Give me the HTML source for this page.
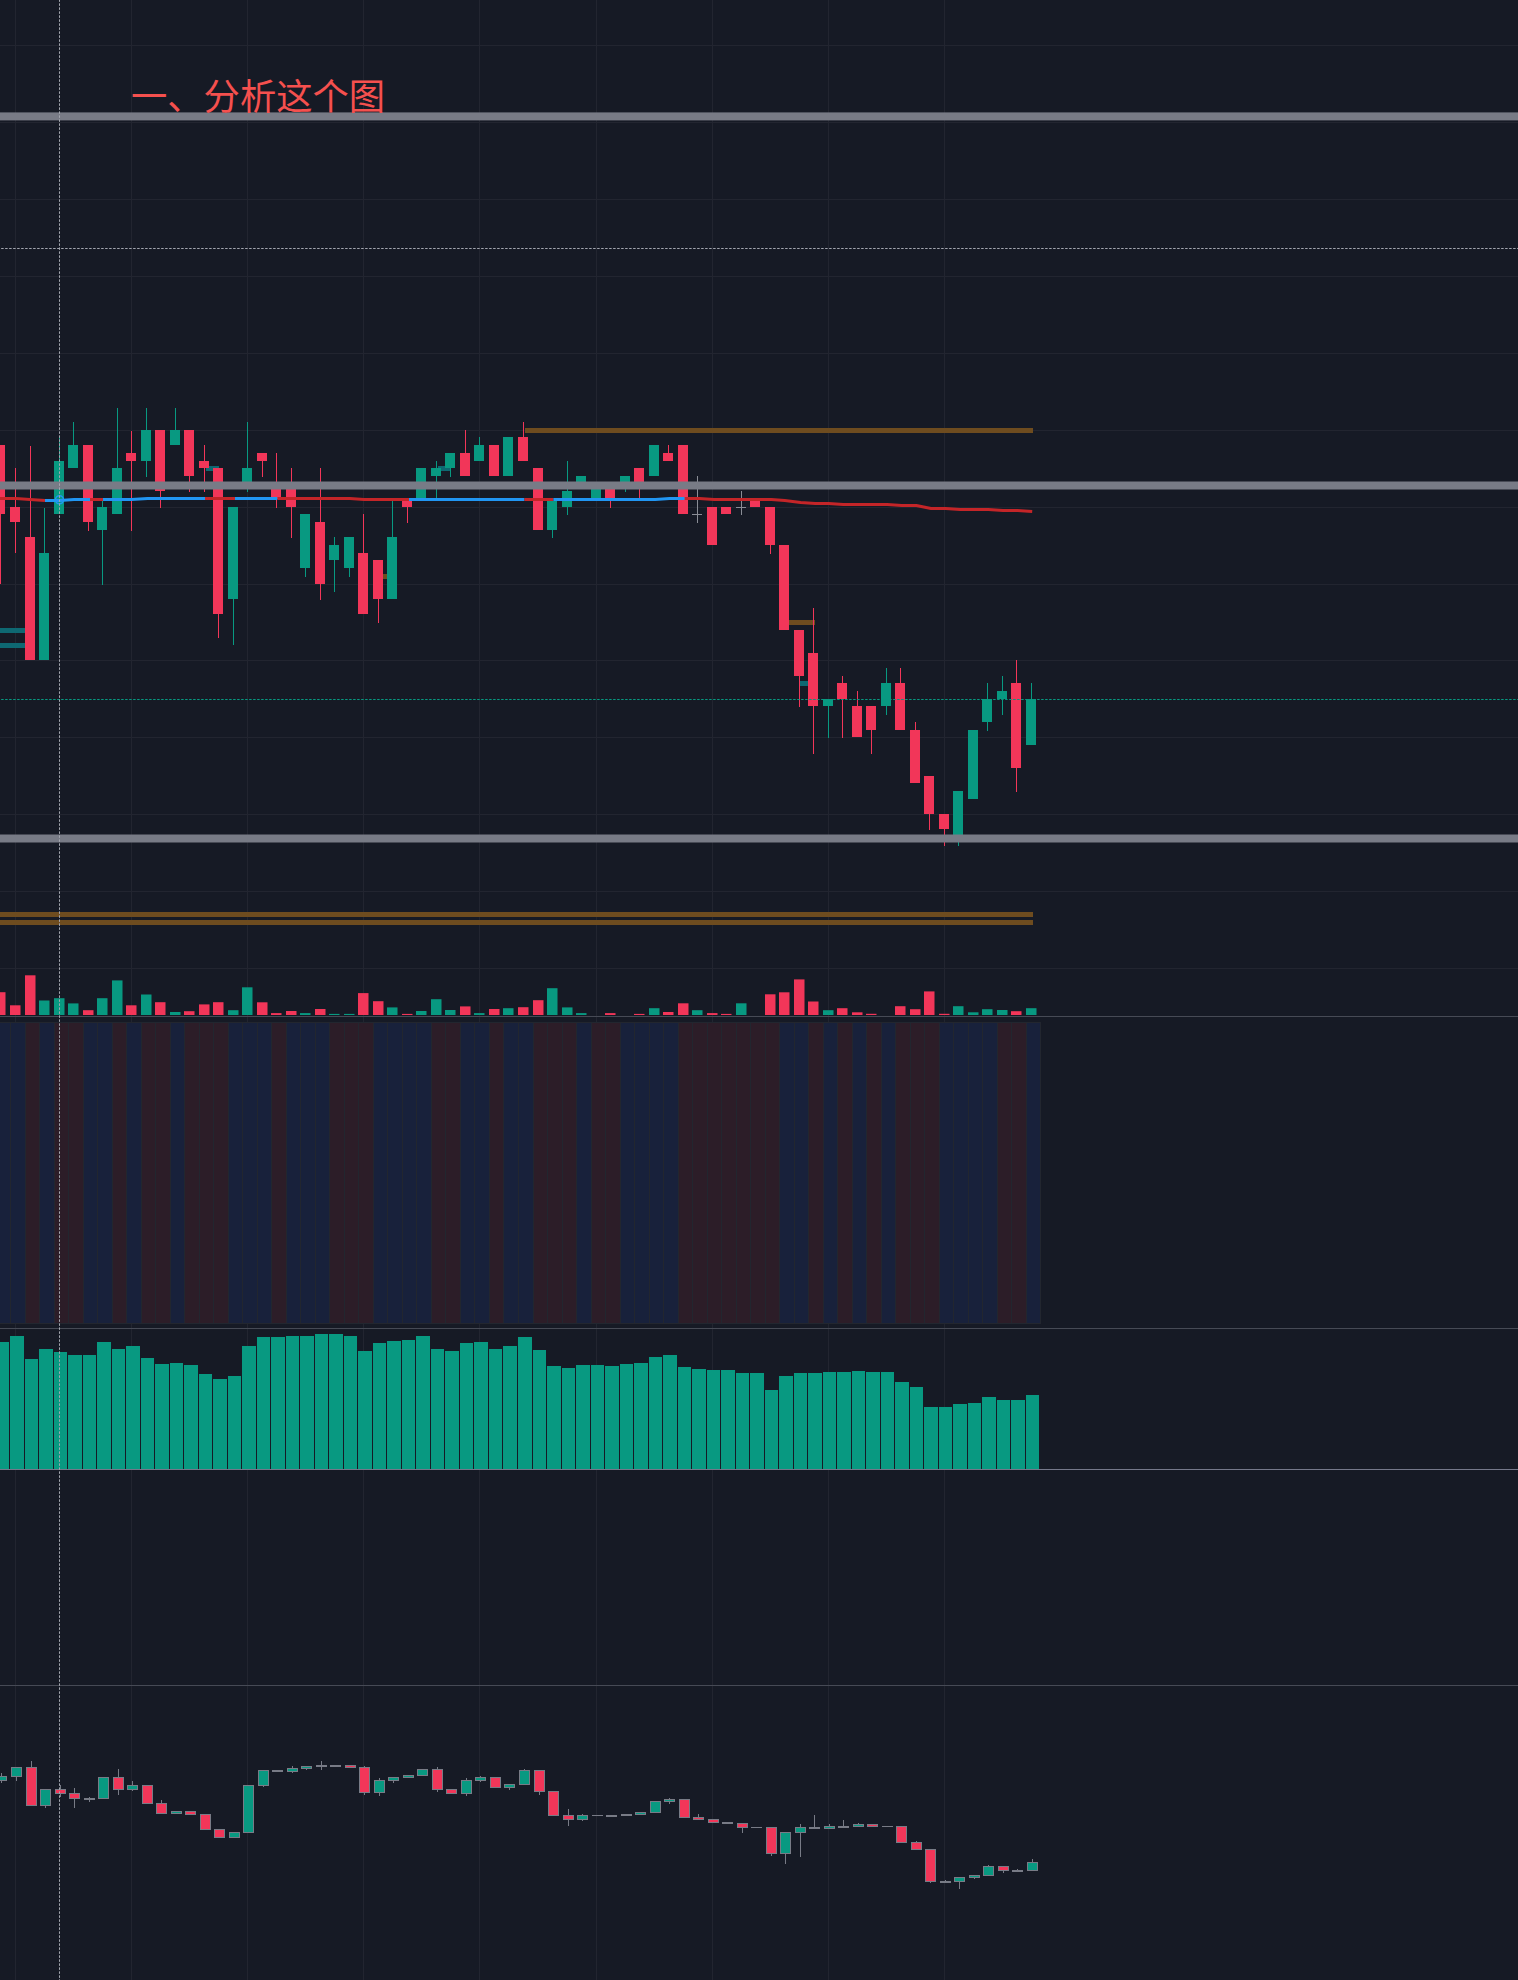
<!DOCTYPE html>
<html lang="zh-CN"><head><meta charset="utf-8"><title>一、分析这个图</title>
<style>html,body{margin:0;padding:0;background:#161A25;}body{width:1518px;height:1980px;overflow:hidden;}svg{display:block;}rect{shape-rendering:crispEdges;}</style>
</head><body>
<svg width="1518" height="1980" viewBox="0 0 1518 1980" ><rect x="0" y="0" width="1518" height="1980" fill="#161A25"/>
<path d="M15.5 0V1980 M131.5 0V1980 M247.5 0V1980 M363.5 0V1980 M479.5 0V1980 M596.5 0V1980 M712.5 0V1980 M828.5 0V1980 M944.5 0V1980 M0 45.5H1518 M0 122.5H1518 M0 199.5H1518 M0 276.5H1518 M0 353.5H1518 M0 430.5H1518 M0 507.5H1518 M0 584.5H1518 M0 660.5H1518 M0 737.5H1518 M0 814.5H1518 M0 891.5H1518 M0 968.5H1518" stroke="#222530" stroke-width="1" fill="none"/>
<g fill="#6E4C1F"><rect x="524.7" y="428" width="507.9" height="5"/><rect x="0" y="912" width="1032.6" height="5"/><rect x="0" y="920" width="1032.6" height="5"/><rect x="383" y="574" width="4.5" height="4.6"/><rect x="789" y="620" width="25.5" height="5"/></g>
<g fill="#0E6872"><rect x="0" y="628" width="25" height="5"/><rect x="0" y="643" width="25" height="5"/><rect x="206" y="466" width="13" height="4.5"/><rect x="438" y="466" width="12" height="4.5"/><rect x="800" y="681" width="8" height="4.6"/></g>
<g fill="#F23659"><rect x="0" y="514" width="1" height="70"/><rect x="-5" y="445" width="10" height="69"/></g>
<g fill="#F23659"><rect x="15" y="468" width="1" height="39"/><rect x="15" y="522" width="1" height="31"/><rect x="10" y="507" width="10" height="15"/></g>
<g fill="#F23659"><rect x="30" y="446" width="1" height="91"/><rect x="25" y="537" width="10" height="123"/></g>
<g fill="#089981"><rect x="44" y="508" width="1" height="45"/><rect x="39" y="553" width="10" height="107"/></g>
<g fill="#089981"><rect x="59" y="437" width="1" height="24"/><rect x="54" y="461" width="10" height="53"/></g>
<g fill="#089981"><rect x="73" y="422" width="1" height="23"/><rect x="68" y="445" width="10" height="23"/></g>
<g fill="#F23659"><rect x="88" y="522" width="1" height="9"/><rect x="83" y="445" width="10" height="77"/></g>
<g fill="#089981"><rect x="102" y="501" width="1" height="6"/><rect x="102" y="530" width="1" height="55"/><rect x="97" y="507" width="10" height="23"/></g>
<g fill="#089981"><rect x="117" y="407.5" width="1" height="60.5"/><rect x="112" y="468" width="10" height="46"/></g>
<g fill="#F23659"><rect x="131" y="431" width="1" height="22"/><rect x="131" y="461" width="1" height="70"/><rect x="126" y="453" width="10" height="8"/></g>
<g fill="#089981"><rect x="146" y="407.5" width="1" height="22.5"/><rect x="146" y="461" width="1" height="16"/><rect x="141" y="430" width="10" height="31"/></g>
<g fill="#F23659"><rect x="160" y="491" width="1" height="17"/><rect x="155" y="430" width="10" height="61"/></g>
<g fill="#089981"><rect x="175" y="407.5" width="1" height="22.5"/><rect x="170" y="430" width="10" height="15"/></g>
<g fill="#F23659"><rect x="189" y="476" width="1" height="16"/><rect x="184" y="430" width="10" height="46"/></g>
<g fill="#F23659"><rect x="204" y="445" width="1" height="16"/><rect x="204" y="468" width="1" height="24"/><rect x="199" y="461" width="10" height="7"/></g>
<g fill="#F23659"><rect x="218" y="614" width="1" height="23.5"/><rect x="213" y="468" width="10" height="146"/></g>
<g fill="#089981"><rect x="233" y="599" width="1" height="46"/><rect x="228" y="507" width="10" height="92"/></g>
<g fill="#089981"><rect x="247" y="422" width="1" height="46"/><rect x="247" y="484" width="1" height="8"/><rect x="242" y="468" width="10" height="16"/></g>
<g fill="#F23659"><rect x="262" y="461" width="1" height="16"/><rect x="257" y="453" width="10" height="8"/></g>
<g fill="#F23659"><rect x="276" y="453" width="1" height="31"/><rect x="276" y="499" width="1" height="9"/><rect x="271" y="484" width="10" height="15"/></g>
<g fill="#F23659"><rect x="291" y="468" width="1" height="16"/><rect x="291" y="507" width="1" height="31"/><rect x="286" y="484" width="10" height="23"/></g>
<g fill="#089981"><rect x="305" y="568" width="1" height="9"/><rect x="300" y="514" width="10" height="54"/></g>
<g fill="#F23659"><rect x="320" y="468" width="1" height="54"/><rect x="320" y="584" width="1" height="16"/><rect x="315" y="522" width="10" height="62"/></g>
<g fill="#089981"><rect x="334" y="537" width="1" height="8"/><rect x="334" y="560" width="1" height="32"/><rect x="329" y="545" width="10" height="15"/></g>
<g fill="#089981"><rect x="349" y="568" width="1" height="9"/><rect x="344" y="537" width="10" height="31"/></g>
<g fill="#F23659"><rect x="363" y="514" width="1" height="39"/><rect x="358" y="553" width="10" height="61"/></g>
<g fill="#F23659"><rect x="378" y="599" width="1" height="24"/><rect x="373" y="560" width="10" height="39"/></g>
<g fill="#089981"><rect x="392" y="501" width="1" height="36"/><rect x="387" y="537" width="10" height="62"/></g>
<g fill="#F23659"><rect x="407" y="507" width="1" height="16"/><rect x="402" y="499" width="10" height="8"/></g>
<g fill="#089981"><rect x="416" y="468" width="10" height="31"/></g>
<g fill="#089981"><rect x="436" y="461" width="1" height="7"/><rect x="436" y="476" width="1" height="22"/><rect x="431" y="468" width="10" height="8"/></g>
<g fill="#089981"><rect x="450" y="468" width="1" height="9"/><rect x="445" y="453" width="10" height="15"/></g>
<g fill="#F23659"><rect x="465" y="430" width="1" height="23"/><rect x="460" y="453" width="10" height="23"/></g>
<g fill="#089981"><rect x="479" y="437" width="1" height="8"/><rect x="474" y="445" width="10" height="16"/></g>
<g fill="#F23659"><rect x="489" y="445" width="10" height="31"/></g>
<g fill="#089981"><rect x="503" y="437" width="10" height="39"/></g>
<g fill="#F23659"><rect x="523" y="422" width="1" height="15"/><rect x="518" y="437" width="10" height="24"/></g>
<g fill="#F23659"><rect x="533" y="468" width="10" height="62"/></g>
<g fill="#089981"><rect x="552" y="530" width="1" height="8"/><rect x="547" y="501" width="10" height="29"/></g>
<g fill="#089981"><rect x="567" y="461" width="1" height="30"/><rect x="567" y="507" width="1" height="7.5"/><rect x="562" y="491" width="10" height="16"/></g>
<g fill="#089981"><rect x="576" y="476" width="10" height="8"/></g>
<g fill="#089981"><rect x="591" y="484" width="10" height="15"/></g>
<g fill="#F23659"><rect x="610" y="499" width="1" height="9"/><rect x="605" y="484" width="10" height="15"/></g>
<g fill="#089981"><rect x="625" y="484" width="1" height="8"/><rect x="620" y="476" width="10" height="8"/></g>
<g fill="#F23659"><rect x="639" y="484" width="1" height="14"/><rect x="634" y="468" width="10" height="16"/></g>
<g fill="#089981"><rect x="649" y="445" width="10" height="31"/></g>
<g fill="#F23659"><rect x="668" y="445" width="1" height="8"/><rect x="663" y="453" width="10" height="8"/></g>
<g fill="#F23659"><rect x="678" y="445" width="10" height="69"/></g>
<g fill="#8A8D96"><rect x="697" y="476" width="1" height="47"/><rect x="692" y="513.5" width="10" height="1"/></g>
<g fill="#F23659"><rect x="707" y="507" width="10" height="38"/></g>
<g fill="#F23659"><rect x="721" y="507" width="10" height="7"/></g>
<g fill="#8A8D96"><rect x="741" y="491" width="1" height="23.5"/><rect x="736" y="506.5" width="10" height="1"/></g>
<g fill="#F23659"><rect x="750" y="499" width="10" height="8"/></g>
<g fill="#F23659"><rect x="770" y="545" width="1" height="9"/><rect x="765" y="507" width="10" height="38"/></g>
<g fill="#F23659"><rect x="779" y="545" width="10" height="85"/></g>
<g fill="#F23659"><rect x="799" y="676" width="1" height="30.5"/><rect x="794" y="630" width="10" height="46"/></g>
<g fill="#F23659"><rect x="813" y="608" width="1" height="45"/><rect x="813" y="706" width="1" height="48"/><rect x="808" y="653" width="10" height="53"/></g>
<g fill="#089981"><rect x="828" y="706" width="1" height="32"/><rect x="823" y="699" width="10" height="7"/></g>
<g fill="#F23659"><rect x="842" y="676" width="1" height="7"/><rect x="842" y="699" width="1" height="39"/><rect x="837" y="683" width="10" height="16"/></g>
<g fill="#F23659"><rect x="857" y="691" width="1" height="15"/><rect x="852" y="706" width="10" height="31"/></g>
<g fill="#F23659"><rect x="871" y="730" width="1" height="24"/><rect x="866" y="706" width="10" height="24"/></g>
<g fill="#089981"><rect x="886" y="668" width="1" height="15"/><rect x="886" y="706" width="1" height="9"/><rect x="881" y="683" width="10" height="23"/></g>
<g fill="#F23659"><rect x="900" y="668" width="1" height="15"/><rect x="895" y="683" width="10" height="47"/></g>
<g fill="#F23659"><rect x="915" y="722" width="1" height="8"/><rect x="910" y="730" width="10" height="53"/></g>
<g fill="#F23659"><rect x="929" y="814" width="1" height="16"/><rect x="924" y="776" width="10" height="38"/></g>
<g fill="#F23659"><rect x="944" y="829" width="1" height="16.5"/><rect x="939" y="814" width="10" height="15"/></g>
<g fill="#089981"><rect x="958" y="837" width="1" height="8.5"/><rect x="953" y="791" width="10" height="46"/></g>
<g fill="#089981"><rect x="968" y="730" width="10" height="69"/></g>
<g fill="#089981"><rect x="987" y="683" width="1" height="16"/><rect x="987" y="722" width="1" height="9"/><rect x="982" y="699" width="10" height="23"/></g>
<g fill="#089981"><rect x="1002" y="676" width="1" height="15"/><rect x="1002" y="699" width="1" height="16"/><rect x="997" y="691" width="10" height="8"/></g>
<g fill="#F23659"><rect x="1016" y="660" width="1" height="23"/><rect x="1016" y="768" width="1" height="24"/><rect x="1011" y="683" width="10" height="85"/></g>
<g fill="#089981"><rect x="1031" y="683" width="1" height="16"/><rect x="1026" y="699" width="10" height="46"/></g>
<path d="M0 498.5 L16 498.5 L30 499.5 L45 500.5" stroke="#C42528" stroke-width="3" fill="none" stroke-linejoin="round"/>
<path d="M45 500.5 L60 500.5 L74 499.5 L90 499.5" stroke="#2196F3" stroke-width="3" fill="none" stroke-linejoin="round"/>
<path d="M90 499.5 L103 499.5" stroke="#C42528" stroke-width="3" fill="none" stroke-linejoin="round"/>
<path d="M103 499.5 L131.4 499.5 L147.6 498.5 L205 498.5" stroke="#2196F3" stroke-width="3" fill="none" stroke-linejoin="round"/>
<path d="M205 498.5 L235 498.5" stroke="#C42528" stroke-width="3" fill="none" stroke-linejoin="round"/>
<path d="M235 498.5 L277.5 498.5" stroke="#2196F3" stroke-width="3" fill="none" stroke-linejoin="round"/>
<path d="M277.5 498.5 L350 498.5 L364 499.5 L409 499.5" stroke="#C42528" stroke-width="3" fill="none" stroke-linejoin="round"/>
<path d="M409 499.5 L524.5 499.5" stroke="#2196F3" stroke-width="3" fill="none" stroke-linejoin="round"/>
<path d="M524.5 499.5 L553.4 499.5" stroke="#C42528" stroke-width="3" fill="none" stroke-linejoin="round"/>
<path d="M553.4 499.5 L655.4 499.5 L669.6 498.5 L684.7 498.5" stroke="#2196F3" stroke-width="3" fill="none" stroke-linejoin="round"/>
<path d="M684.7 498.5 L699.5 498.5 L714 499.5 L771.4 499.5 L784.8 500.5 L800.6 502.5 L815.3 503.5 L828.7 503.5 L843.3 504.5 L887.2 504.5 L901.8 505.5 L916.4 505.5 L931 508.5 L945.7 508.5 L960.3 509.5 L988.3 509.5 L1003 510.5 L1017.6 510.5 L1032.2 511.5" stroke="#C42528" stroke-width="3" fill="none" stroke-linejoin="round"/>
<circle cx="59.5" cy="499.8" r="4" fill="none" stroke="#2196F3" stroke-width="1.6"/>
<g fill="#787B86" style="shape-rendering:auto"><rect x="0" y="112.4" width="1518" height="8" style="shape-rendering:auto"/><rect x="0" y="481.5" width="1518" height="8" style="shape-rendering:auto"/><rect x="0" y="834.5" width="1518" height="8" style="shape-rendering:auto"/></g>
<rect x="-5" y="992.2" width="10.5" height="22.8" fill="#F23659" style="shape-rendering:auto"/>
<rect x="10" y="1005.3" width="10.5" height="9.7" fill="#F23659" style="shape-rendering:auto"/>
<rect x="25" y="975.3" width="10.5" height="39.7" fill="#F23659" style="shape-rendering:auto"/>
<rect x="39" y="1000.5" width="10.5" height="14.5" fill="#089981" style="shape-rendering:auto"/>
<rect x="54" y="998.2" width="10.5" height="16.8" fill="#089981" style="shape-rendering:auto"/>
<rect x="68" y="1003.4" width="10.5" height="11.6" fill="#089981" style="shape-rendering:auto"/>
<rect x="83" y="1010.2" width="10.5" height="4.8" fill="#F23659" style="shape-rendering:auto"/>
<rect x="97" y="998.2" width="10.5" height="16.8" fill="#089981" style="shape-rendering:auto"/>
<rect x="112" y="980.4" width="10.5" height="34.6" fill="#089981" style="shape-rendering:auto"/>
<rect x="126" y="1005.3" width="10.5" height="9.7" fill="#F23659" style="shape-rendering:auto"/>
<rect x="141" y="994.5" width="10.5" height="20.5" fill="#089981" style="shape-rendering:auto"/>
<rect x="155" y="1002.2" width="10.5" height="12.8" fill="#F23659" style="shape-rendering:auto"/>
<rect x="170" y="1012" width="10.5" height="3" fill="#089981" style="shape-rendering:auto"/>
<rect x="184" y="1011.2" width="10.5" height="3.8" fill="#F23659" style="shape-rendering:auto"/>
<rect x="199" y="1004.4" width="10.5" height="10.6" fill="#F23659" style="shape-rendering:auto"/>
<rect x="213" y="1002.2" width="10.5" height="12.8" fill="#F23659" style="shape-rendering:auto"/>
<rect x="228" y="1010.2" width="10.5" height="4.8" fill="#089981" style="shape-rendering:auto"/>
<rect x="242" y="987.3" width="10.5" height="27.7" fill="#089981" style="shape-rendering:auto"/>
<rect x="257" y="1002.3" width="10.5" height="12.7" fill="#F23659" style="shape-rendering:auto"/>
<rect x="271" y="1013.1" width="10.5" height="1.9" fill="#F23659" style="shape-rendering:auto"/>
<rect x="286" y="1011" width="10.5" height="4" fill="#F23659" style="shape-rendering:auto"/>
<rect x="300" y="1013.1" width="10.5" height="1.9" fill="#089981" style="shape-rendering:auto"/>
<rect x="315" y="1009" width="10.5" height="6" fill="#F23659" style="shape-rendering:auto"/>
<rect x="329" y="1013.9" width="10.5" height="1.1" fill="#089981" style="shape-rendering:auto"/>
<rect x="344" y="1013.9" width="10.5" height="1.1" fill="#089981" style="shape-rendering:auto"/>
<rect x="358" y="993.1" width="10.5" height="21.9" fill="#F23659" style="shape-rendering:auto"/>
<rect x="373" y="1001.2" width="10.5" height="13.8" fill="#F23659" style="shape-rendering:auto"/>
<rect x="387" y="1007.4" width="10.5" height="7.6" fill="#089981" style="shape-rendering:auto"/>
<rect x="402" y="1013.9" width="10.5" height="1.1" fill="#F23659" style="shape-rendering:auto"/>
<rect x="416" y="1011" width="10.5" height="4" fill="#089981" style="shape-rendering:auto"/>
<rect x="431" y="999.2" width="10.5" height="15.8" fill="#089981" style="shape-rendering:auto"/>
<rect x="445" y="1010" width="10.5" height="5" fill="#089981" style="shape-rendering:auto"/>
<rect x="460" y="1006.4" width="10.5" height="8.6" fill="#F23659" style="shape-rendering:auto"/>
<rect x="474" y="1013.1" width="10.5" height="1.9" fill="#089981" style="shape-rendering:auto"/>
<rect x="489" y="1009" width="10.5" height="6" fill="#F23659" style="shape-rendering:auto"/>
<rect x="503" y="1008.2" width="10.5" height="6.8" fill="#089981" style="shape-rendering:auto"/>
<rect x="518" y="1007.2" width="10.5" height="7.8" fill="#F23659" style="shape-rendering:auto"/>
<rect x="533" y="1000.2" width="10.5" height="14.8" fill="#F23659" style="shape-rendering:auto"/>
<rect x="547" y="988.2" width="10.5" height="26.8" fill="#089981" style="shape-rendering:auto"/>
<rect x="562" y="1007.4" width="10.5" height="7.6" fill="#089981" style="shape-rendering:auto"/>
<rect x="576" y="1013.1" width="10.5" height="1.9" fill="#089981" style="shape-rendering:auto"/>
<rect x="605" y="1013.1" width="10.5" height="1.9" fill="#F23659" style="shape-rendering:auto"/>
<rect x="634" y="1013.9" width="10.5" height="1.1" fill="#F23659" style="shape-rendering:auto"/>
<rect x="649" y="1008.2" width="10.5" height="6.8" fill="#089981" style="shape-rendering:auto"/>
<rect x="663" y="1012" width="10.5" height="3" fill="#F23659" style="shape-rendering:auto"/>
<rect x="678" y="1003.3" width="10.5" height="11.7" fill="#F23659" style="shape-rendering:auto"/>
<rect x="692" y="1010.2" width="10.5" height="4.8" fill="#089981" style="shape-rendering:auto"/>
<rect x="707" y="1013.1" width="10.5" height="1.9" fill="#F23659" style="shape-rendering:auto"/>
<rect x="721" y="1013.9" width="10.5" height="1.1" fill="#F23659" style="shape-rendering:auto"/>
<rect x="736" y="1003.3" width="10.5" height="11.7" fill="#089981" style="shape-rendering:auto"/>
<rect x="765" y="994.3" width="10.5" height="20.7" fill="#F23659" style="shape-rendering:auto"/>
<rect x="779" y="992.3" width="10.5" height="22.7" fill="#F23659" style="shape-rendering:auto"/>
<rect x="794" y="979.4" width="10.5" height="35.6" fill="#F23659" style="shape-rendering:auto"/>
<rect x="808" y="1001.5" width="10.5" height="13.5" fill="#F23659" style="shape-rendering:auto"/>
<rect x="823" y="1010.2" width="10.5" height="4.8" fill="#089981" style="shape-rendering:auto"/>
<rect x="837" y="1008.2" width="10.5" height="6.8" fill="#F23659" style="shape-rendering:auto"/>
<rect x="852" y="1012.3" width="10.5" height="2.7" fill="#F23659" style="shape-rendering:auto"/>
<rect x="866" y="1013.8" width="10.5" height="1.2" fill="#F23659" style="shape-rendering:auto"/>
<rect x="895" y="1006.2" width="10.5" height="8.8" fill="#F23659" style="shape-rendering:auto"/>
<rect x="910" y="1009.2" width="10.5" height="5.8" fill="#F23659" style="shape-rendering:auto"/>
<rect x="924" y="991.4" width="10.5" height="23.6" fill="#F23659" style="shape-rendering:auto"/>
<rect x="939" y="1013.8" width="10.5" height="1.2" fill="#F23659" style="shape-rendering:auto"/>
<rect x="953" y="1006.2" width="10.5" height="8.8" fill="#089981" style="shape-rendering:auto"/>
<rect x="968" y="1012.3" width="10.5" height="2.7" fill="#089981" style="shape-rendering:auto"/>
<rect x="982" y="1009.2" width="10.5" height="5.8" fill="#089981" style="shape-rendering:auto"/>
<rect x="997" y="1010" width="10.5" height="5" fill="#089981" style="shape-rendering:auto"/>
<rect x="1011" y="1011.2" width="10.5" height="3.8" fill="#F23659" style="shape-rendering:auto"/>
<rect x="1026" y="1008.2" width="10.5" height="6.8" fill="#089981" style="shape-rendering:auto"/>
<rect x="0" y="1022" width="1041" height="302" fill="#22262F"/>
<rect x="-4" y="1023" width="14" height="300" fill="#18213B"/>
<rect x="11" y="1023" width="14" height="300" fill="#18213B"/>
<rect x="26" y="1023" width="13" height="300" fill="#2C1D28"/>
<rect x="40" y="1023" width="14" height="300" fill="#18213B"/>
<rect x="55" y="1023" width="13" height="300" fill="#2C1D28"/>
<rect x="69" y="1023" width="14" height="300" fill="#2C1D28"/>
<rect x="84" y="1023" width="13" height="300" fill="#18213B"/>
<rect x="98" y="1023" width="14" height="300" fill="#18213B"/>
<rect x="113" y="1023" width="13" height="300" fill="#2C1D28"/>
<rect x="127" y="1023" width="14" height="300" fill="#18213B"/>
<rect x="142" y="1023" width="13" height="300" fill="#2C1D28"/>
<rect x="156" y="1023" width="14" height="300" fill="#2C1D28"/>
<rect x="171" y="1023" width="13" height="300" fill="#18213B"/>
<rect x="185" y="1023" width="14" height="300" fill="#2C1D28"/>
<rect x="200" y="1023" width="13" height="300" fill="#2C1D28"/>
<rect x="214" y="1023" width="14" height="300" fill="#2C1D28"/>
<rect x="229" y="1023" width="13" height="300" fill="#18213B"/>
<rect x="243" y="1023" width="14" height="300" fill="#18213B"/>
<rect x="258" y="1023" width="13" height="300" fill="#18213B"/>
<rect x="272" y="1023" width="14" height="300" fill="#2C1D28"/>
<rect x="287" y="1023" width="13" height="300" fill="#18213B"/>
<rect x="301" y="1023" width="14" height="300" fill="#18213B"/>
<rect x="316" y="1023" width="13" height="300" fill="#18213B"/>
<rect x="330" y="1023" width="14" height="300" fill="#2C1D28"/>
<rect x="345" y="1023" width="13" height="300" fill="#2C1D28"/>
<rect x="359" y="1023" width="14" height="300" fill="#2C1D28"/>
<rect x="374" y="1023" width="13" height="300" fill="#18213B"/>
<rect x="388" y="1023" width="14" height="300" fill="#18213B"/>
<rect x="403" y="1023" width="13" height="300" fill="#18213B"/>
<rect x="417" y="1023" width="14" height="300" fill="#18213B"/>
<rect x="432" y="1023" width="13" height="300" fill="#2C1D28"/>
<rect x="446" y="1023" width="14" height="300" fill="#2C1D28"/>
<rect x="461" y="1023" width="13" height="300" fill="#18213B"/>
<rect x="475" y="1023" width="14" height="300" fill="#18213B"/>
<rect x="490" y="1023" width="13" height="300" fill="#2C1D28"/>
<rect x="504" y="1023" width="14" height="300" fill="#18213B"/>
<rect x="519" y="1023" width="14" height="300" fill="#18213B"/>
<rect x="534" y="1023" width="13" height="300" fill="#2C1D28"/>
<rect x="548" y="1023" width="14" height="300" fill="#2C1D28"/>
<rect x="563" y="1023" width="13" height="300" fill="#2C1D28"/>
<rect x="577" y="1023" width="14" height="300" fill="#18213B"/>
<rect x="592" y="1023" width="13" height="300" fill="#2C1D28"/>
<rect x="606" y="1023" width="14" height="300" fill="#2C1D28"/>
<rect x="621" y="1023" width="13" height="300" fill="#18213B"/>
<rect x="635" y="1023" width="14" height="300" fill="#18213B"/>
<rect x="650" y="1023" width="13" height="300" fill="#18213B"/>
<rect x="664" y="1023" width="14" height="300" fill="#18213B"/>
<rect x="679" y="1023" width="13" height="300" fill="#2C1D28"/>
<rect x="693" y="1023" width="14" height="300" fill="#2C1D28"/>
<rect x="708" y="1023" width="13" height="300" fill="#2C1D28"/>
<rect x="722" y="1023" width="14" height="300" fill="#2C1D28"/>
<rect x="737" y="1023" width="13" height="300" fill="#2C1D28"/>
<rect x="751" y="1023" width="14" height="300" fill="#2C1D28"/>
<rect x="766" y="1023" width="13" height="300" fill="#2C1D28"/>
<rect x="780" y="1023" width="14" height="300" fill="#18213B"/>
<rect x="795" y="1023" width="13" height="300" fill="#18213B"/>
<rect x="809" y="1023" width="14" height="300" fill="#2C1D28"/>
<rect x="824" y="1023" width="13" height="300" fill="#18213B"/>
<rect x="838" y="1023" width="14" height="300" fill="#2C1D28"/>
<rect x="853" y="1023" width="13" height="300" fill="#18213B"/>
<rect x="867" y="1023" width="14" height="300" fill="#2C1D28"/>
<rect x="882" y="1023" width="13" height="300" fill="#18213B"/>
<rect x="896" y="1023" width="14" height="300" fill="#2C1D28"/>
<rect x="911" y="1023" width="13" height="300" fill="#2C1D28"/>
<rect x="925" y="1023" width="14" height="300" fill="#2C1D28"/>
<rect x="940" y="1023" width="13" height="300" fill="#18213B"/>
<rect x="954" y="1023" width="14" height="300" fill="#18213B"/>
<rect x="969" y="1023" width="13" height="300" fill="#18213B"/>
<rect x="983" y="1023" width="14" height="300" fill="#18213B"/>
<rect x="998" y="1023" width="13" height="300" fill="#2C1D28"/>
<rect x="1012" y="1023" width="14" height="300" fill="#2C1D28"/>
<rect x="1027" y="1023" width="13" height="300" fill="#18213B"/>
<rect x="-5" y="1341.5" width="14" height="127.5" fill="#089981"/>
<rect x="10" y="1335.6" width="14" height="133.4" fill="#089981"/>
<rect x="25" y="1359.3" width="13" height="109.7" fill="#089981"/>
<rect x="39" y="1349.3" width="14" height="119.7" fill="#089981"/>
<rect x="54" y="1352.2" width="13" height="116.8" fill="#089981"/>
<rect x="68" y="1355.3" width="14" height="113.7" fill="#089981"/>
<rect x="83" y="1355.3" width="13" height="113.7" fill="#089981"/>
<rect x="97" y="1341.5" width="14" height="127.5" fill="#089981"/>
<rect x="112" y="1349.3" width="13" height="119.7" fill="#089981"/>
<rect x="126" y="1346.2" width="14" height="122.8" fill="#089981"/>
<rect x="141" y="1358.1" width="13" height="110.9" fill="#089981"/>
<rect x="155" y="1364" width="14" height="105" fill="#089981"/>
<rect x="170" y="1363.3" width="13" height="105.7" fill="#089981"/>
<rect x="184" y="1365.2" width="14" height="103.8" fill="#089981"/>
<rect x="199" y="1374.2" width="13" height="94.8" fill="#089981"/>
<rect x="213" y="1379.4" width="14" height="89.6" fill="#089981"/>
<rect x="228" y="1376.4" width="13" height="92.6" fill="#089981"/>
<rect x="242" y="1346.2" width="14" height="122.8" fill="#089981"/>
<rect x="257" y="1337.2" width="13" height="131.8" fill="#089981"/>
<rect x="271" y="1337.2" width="14" height="131.8" fill="#089981"/>
<rect x="286" y="1336.3" width="13" height="132.7" fill="#089981"/>
<rect x="300" y="1335.6" width="14" height="133.4" fill="#089981"/>
<rect x="315" y="1334.4" width="13" height="134.6" fill="#089981"/>
<rect x="329" y="1334.4" width="14" height="134.6" fill="#089981"/>
<rect x="344" y="1335.5" width="13" height="133.5" fill="#089981"/>
<rect x="358" y="1351.3" width="14" height="117.7" fill="#089981"/>
<rect x="373" y="1343.2" width="13" height="125.8" fill="#089981"/>
<rect x="387" y="1341.3" width="14" height="127.7" fill="#089981"/>
<rect x="402" y="1340.4" width="13" height="128.6" fill="#089981"/>
<rect x="416" y="1336.1" width="14" height="132.9" fill="#089981"/>
<rect x="431" y="1349.2" width="13" height="119.8" fill="#089981"/>
<rect x="445" y="1351" width="14" height="118" fill="#089981"/>
<rect x="460" y="1343" width="13" height="126" fill="#089981"/>
<rect x="474" y="1342" width="14" height="127" fill="#089981"/>
<rect x="489" y="1348.5" width="13" height="120.5" fill="#089981"/>
<rect x="503" y="1346.1" width="14" height="122.9" fill="#089981"/>
<rect x="518" y="1337" width="14" height="132" fill="#089981"/>
<rect x="533" y="1350.1" width="13" height="118.9" fill="#089981"/>
<rect x="547" y="1366.2" width="14" height="102.8" fill="#089981"/>
<rect x="562" y="1368.1" width="13" height="100.9" fill="#089981"/>
<rect x="576" y="1365" width="14" height="104" fill="#089981"/>
<rect x="591" y="1365" width="13" height="104" fill="#089981"/>
<rect x="605" y="1366.2" width="14" height="102.8" fill="#089981"/>
<rect x="620" y="1364.1" width="13" height="104.9" fill="#089981"/>
<rect x="634" y="1363.2" width="14" height="105.8" fill="#089981"/>
<rect x="649" y="1357.2" width="13" height="111.8" fill="#089981"/>
<rect x="663" y="1355.1" width="14" height="113.9" fill="#089981"/>
<rect x="678" y="1367.4" width="13" height="101.6" fill="#089981"/>
<rect x="692" y="1368.6" width="14" height="100.4" fill="#089981"/>
<rect x="707" y="1370.3" width="13" height="98.7" fill="#089981"/>
<rect x="721" y="1370.3" width="14" height="98.7" fill="#089981"/>
<rect x="736" y="1373.4" width="13" height="95.6" fill="#089981"/>
<rect x="750" y="1373.4" width="14" height="95.6" fill="#089981"/>
<rect x="765" y="1390.4" width="13" height="78.6" fill="#089981"/>
<rect x="779" y="1376.2" width="14" height="92.8" fill="#089981"/>
<rect x="794" y="1373.4" width="13" height="95.6" fill="#089981"/>
<rect x="808" y="1373.4" width="14" height="95.6" fill="#089981"/>
<rect x="823" y="1372.2" width="13" height="96.8" fill="#089981"/>
<rect x="837" y="1372.2" width="14" height="96.8" fill="#089981"/>
<rect x="852" y="1371.2" width="13" height="97.8" fill="#089981"/>
<rect x="866" y="1372.2" width="14" height="96.8" fill="#089981"/>
<rect x="881" y="1372.2" width="13" height="96.8" fill="#089981"/>
<rect x="895" y="1382.4" width="14" height="86.6" fill="#089981"/>
<rect x="910" y="1387.4" width="13" height="81.6" fill="#089981"/>
<rect x="924" y="1407.3" width="14" height="61.7" fill="#089981"/>
<rect x="939" y="1407.3" width="13" height="61.7" fill="#089981"/>
<rect x="953" y="1404.2" width="14" height="64.8" fill="#089981"/>
<rect x="968" y="1403.2" width="13" height="65.8" fill="#089981"/>
<rect x="982" y="1397.1" width="14" height="71.9" fill="#089981"/>
<rect x="997" y="1400.2" width="13" height="68.8" fill="#089981"/>
<rect x="1011" y="1400.2" width="14" height="68.8" fill="#089981"/>
<rect x="1026" y="1395.4" width="13" height="73.6" fill="#089981"/>
<g fill="#464A55"><rect x="0" y="1016" width="1518" height="1"/><rect x="0" y="1328" width="1518" height="1"/><rect x="0" y="1685" width="1518" height="1"/></g>
<rect x="0" y="1469" width="1518" height="1" fill="#75788A"/>
<rect x="1" y="1773.4" width="1" height="2.8" fill="#787B86"/><rect x="1" y="1780.8" width="1" height="1.9" fill="#787B86"/><rect x="-3.5" y="1776.2" width="10" height="4.6" fill="#089981" stroke="#787B86" stroke-width="1"/>
<rect x="16" y="1776.6" width="1" height="4.2" fill="#787B86"/><rect x="11.5" y="1767" width="10" height="9.6" fill="#089981" stroke="#787B86" stroke-width="1"/>
<rect x="31" y="1760.5" width="1" height="6.9" fill="#787B86"/><rect x="26.5" y="1767.4" width="10" height="38.3" fill="#F23659" stroke="#787B86" stroke-width="1"/>
<rect x="45" y="1805.7" width="1" height="1.9" fill="#787B86"/><rect x="40.5" y="1789.5" width="10" height="16.2" fill="#089981" stroke="#787B86" stroke-width="1"/>
<rect x="60" y="1785.4" width="1" height="3.6" fill="#787B86"/><rect x="60" y="1793.7" width="1" height="3.7" fill="#787B86"/><rect x="55.5" y="1789" width="10" height="4.7" fill="#F23659" stroke="#787B86" stroke-width="1"/>
<rect x="74" y="1788.2" width="1" height="5" fill="#787B86"/><rect x="74" y="1798.7" width="1" height="8.9" fill="#787B86"/><rect x="69.5" y="1793.2" width="10" height="5.5" fill="#F23659" stroke="#787B86" stroke-width="1"/>
<rect x="89" y="1797" width="1" height="1.7" fill="#787B86"/><rect x="89" y="1798.7" width="1" height="3" fill="#787B86"/><rect x="84" y="1797.7" width="11" height="2" fill="#787B86"/>
<rect x="98.5" y="1777" width="10" height="21.7" fill="#089981" stroke="#787B86" stroke-width="1"/>
<rect x="118" y="1768.5" width="1" height="8.5" fill="#787B86"/><rect x="118" y="1789.5" width="1" height="5.2" fill="#787B86"/><rect x="113.5" y="1777" width="10" height="12.5" fill="#F23659" stroke="#787B86" stroke-width="1"/>
<rect x="132" y="1781.4" width="1" height="4" fill="#787B86"/><rect x="132" y="1789.5" width="1" height="1.8" fill="#787B86"/><rect x="127.5" y="1785.4" width="10" height="4.1" fill="#089981" stroke="#787B86" stroke-width="1"/>
<rect x="142.5" y="1785.4" width="10" height="18.1" fill="#F23659" stroke="#787B86" stroke-width="1"/>
<rect x="161" y="1800.2" width="1" height="3.1" fill="#787B86"/><rect x="156.5" y="1803.3" width="10" height="10.2" fill="#F23659" stroke="#787B86" stroke-width="1"/>
<rect x="171.5" y="1811.3" width="10" height="2.2" fill="#089981" stroke="#787B86" stroke-width="1"/>
<rect x="185.5" y="1811.3" width="10" height="3.1" fill="#F23659" stroke="#787B86" stroke-width="1"/>
<rect x="200.5" y="1814" width="10" height="15.3" fill="#F23659" stroke="#787B86" stroke-width="1"/>
<rect x="214.5" y="1829.2" width="10" height="8.4" fill="#F23659" stroke="#787B86" stroke-width="1"/>
<rect x="229.5" y="1832" width="10" height="5.6" fill="#089981" stroke="#787B86" stroke-width="1"/>
<rect x="243.5" y="1785.4" width="10" height="47.4" fill="#089981" stroke="#787B86" stroke-width="1"/>
<rect x="263" y="1785.5" width="1" height="1.9" fill="#787B86"/><rect x="258.5" y="1770.2" width="10" height="15.3" fill="#089981" stroke="#787B86" stroke-width="1"/>
<rect x="272" y="1769.8" width="11" height="2" fill="#787B86"/>
<rect x="292" y="1766" width="1" height="2.3" fill="#787B86"/><rect x="292" y="1771.6" width="1" height="1" fill="#787B86"/><rect x="287.5" y="1768.3" width="10" height="3.3" fill="#089981" stroke="#787B86" stroke-width="1"/>
<rect x="306" y="1768.7" width="1" height="0.9" fill="#787B86"/><rect x="301.5" y="1766" width="10" height="2.7" fill="#089981" stroke="#787B86" stroke-width="1"/>
<rect x="321" y="1761.3" width="1" height="4.4" fill="#787B86"/><rect x="321" y="1765.7" width="1" height="3.9" fill="#787B86"/><rect x="316" y="1764.7" width="11" height="2" fill="#787B86"/>
<rect x="335" y="1764.5" width="1" height="1.2" fill="#787B86"/><rect x="335" y="1765.7" width="1" height="1.3" fill="#787B86"/><rect x="330" y="1764.7" width="11" height="2" fill="#787B86"/>
<rect x="345.5" y="1765.1" width="10" height="2.4" fill="#F23659" stroke="#787B86" stroke-width="1"/>
<rect x="364" y="1766" width="1" height="1.3" fill="#787B86"/><rect x="364" y="1792.8" width="1" height="1.9" fill="#787B86"/><rect x="359.5" y="1767.3" width="10" height="25.5" fill="#F23659" stroke="#787B86" stroke-width="1"/>
<rect x="379" y="1777.5" width="1" height="2.6" fill="#787B86"/><rect x="379" y="1792.8" width="1" height="2.9" fill="#787B86"/><rect x="374.5" y="1780.1" width="10" height="12.7" fill="#089981" stroke="#787B86" stroke-width="1"/>
<rect x="393" y="1780.5" width="1" height="2" fill="#787B86"/><rect x="388.5" y="1777.2" width="10" height="3.3" fill="#089981" stroke="#787B86" stroke-width="1"/>
<rect x="403.5" y="1775.2" width="10" height="2.3" fill="#089981" stroke="#787B86" stroke-width="1"/>
<rect x="417.5" y="1769" width="10" height="6.6" fill="#089981" stroke="#787B86" stroke-width="1"/>
<rect x="437" y="1767.3" width="1" height="1.7" fill="#787B86"/><rect x="437" y="1789.4" width="1" height="2.4" fill="#787B86"/><rect x="432.5" y="1769" width="10" height="20.4" fill="#F23659" stroke="#787B86" stroke-width="1"/>
<rect x="446.5" y="1789" width="10" height="4.4" fill="#F23659" stroke="#787B86" stroke-width="1"/>
<rect x="466" y="1778.1" width="1" height="2" fill="#787B86"/><rect x="466" y="1793.4" width="1" height="2.3" fill="#787B86"/><rect x="461.5" y="1780.1" width="10" height="13.3" fill="#089981" stroke="#787B86" stroke-width="1"/>
<rect x="480" y="1776.2" width="1" height="0.8" fill="#787B86"/><rect x="480" y="1780.5" width="1" height="1.4" fill="#787B86"/><rect x="475.5" y="1777" width="10" height="3.5" fill="#089981" stroke="#787B86" stroke-width="1"/>
<rect x="490.5" y="1777" width="10" height="10.4" fill="#F23659" stroke="#787B86" stroke-width="1"/>
<rect x="509" y="1787.4" width="1" height="2.4" fill="#787B86"/><rect x="504.5" y="1784" width="10" height="3.4" fill="#089981" stroke="#787B86" stroke-width="1"/>
<rect x="524" y="1769" width="1" height="1" fill="#787B86"/><rect x="519.5" y="1770" width="10" height="14.5" fill="#089981" stroke="#787B86" stroke-width="1"/>
<rect x="539" y="1791.8" width="1" height="2.9" fill="#787B86"/><rect x="534.5" y="1770" width="10" height="21.8" fill="#F23659" stroke="#787B86" stroke-width="1"/>
<rect x="548.5" y="1791.1" width="10" height="24.4" fill="#F23659" stroke="#787B86" stroke-width="1"/>
<rect x="568" y="1809" width="1" height="6.5" fill="#787B86"/><rect x="568" y="1819.4" width="1" height="6.3" fill="#787B86"/><rect x="563.5" y="1815.5" width="10" height="3.9" fill="#F23659" stroke="#787B86" stroke-width="1"/>
<rect x="582" y="1813.9" width="1" height="1.6" fill="#787B86"/><rect x="582" y="1819.4" width="1" height="1.6" fill="#787B86"/><rect x="577.5" y="1815.5" width="10" height="3.9" fill="#089981" stroke="#787B86" stroke-width="1"/>
<rect x="592" y="1815" width="11" height="1" fill="#787B86"/>
<rect x="611" y="1814.5" width="1" height="1.3" fill="#787B86"/><rect x="611" y="1815.8" width="1" height="1.2" fill="#787B86"/><rect x="606" y="1814.8" width="11" height="2" fill="#787B86"/>
<rect x="621" y="1813.9" width="11" height="2" fill="#787B86"/>
<rect x="635.5" y="1812.1" width="10" height="2.4" fill="#089981" stroke="#787B86" stroke-width="1"/>
<rect x="650.5" y="1801" width="10" height="11.5" fill="#089981" stroke="#787B86" stroke-width="1"/>
<rect x="669" y="1798" width="1" height="1.6" fill="#787B86"/><rect x="669" y="1801.6" width="1" height="2" fill="#787B86"/><rect x="664.5" y="1799.6" width="10" height="2" fill="#089981" stroke="#787B86" stroke-width="1"/>
<rect x="679.5" y="1799.2" width="10" height="18.2" fill="#F23659" stroke="#787B86" stroke-width="1"/>
<rect x="698" y="1813.9" width="1" height="3.1" fill="#787B86"/><rect x="693.5" y="1817" width="10" height="2.8" fill="#F23659" stroke="#787B86" stroke-width="1"/>
<rect x="708.5" y="1819" width="10" height="3.8" fill="#F23659" stroke="#787B86" stroke-width="1"/>
<rect x="722" y="1821.8" width="11" height="2" fill="#787B86"/>
<rect x="742" y="1827.7" width="1" height="5.1" fill="#787B86"/><rect x="737.5" y="1823" width="10" height="4.7" fill="#F23659" stroke="#787B86" stroke-width="1"/>
<rect x="751" y="1826.8" width="11" height="1" fill="#787B86"/>
<rect x="771" y="1853.4" width="1" height="3" fill="#787B86"/><rect x="766.5" y="1827.3" width="10" height="26.1" fill="#F23659" stroke="#787B86" stroke-width="1"/>
<rect x="785" y="1853.4" width="1" height="10.1" fill="#787B86"/><rect x="780.5" y="1832.3" width="10" height="21.1" fill="#089981" stroke="#787B86" stroke-width="1"/>
<rect x="800" y="1824.3" width="1" height="3" fill="#787B86"/><rect x="800" y="1832.6" width="1" height="24" fill="#787B86"/><rect x="795.5" y="1827.3" width="10" height="5.3" fill="#089981" stroke="#787B86" stroke-width="1"/>
<rect x="814" y="1814.5" width="1" height="13.3" fill="#787B86"/><rect x="809" y="1826.8" width="11" height="2" fill="#787B86"/>
<rect x="829" y="1824.3" width="1" height="2" fill="#787B86"/><rect x="824.5" y="1826.3" width="10" height="2.3" fill="#089981" stroke="#787B86" stroke-width="1"/>
<rect x="843" y="1819.5" width="1" height="7.3" fill="#787B86"/><rect x="838" y="1825.8" width="11" height="2" fill="#787B86"/>
<rect x="858" y="1823" width="1" height="1.3" fill="#787B86"/><rect x="853.5" y="1824.3" width="10" height="2.2" fill="#089981" stroke="#787B86" stroke-width="1"/>
<rect x="867.5" y="1824.3" width="10" height="2.2" fill="#F23659" stroke="#787B86" stroke-width="1"/>
<rect x="882" y="1825.8" width="11" height="1" fill="#787B86"/>
<rect x="896.5" y="1826.3" width="10" height="16.3" fill="#F23659" stroke="#787B86" stroke-width="1"/>
<rect x="916" y="1841" width="1" height="1.2" fill="#787B86"/><rect x="911.5" y="1842.2" width="10" height="7.4" fill="#F23659" stroke="#787B86" stroke-width="1"/>
<rect x="930" y="1881.6" width="1" height="0.9" fill="#787B86"/><rect x="925.5" y="1849.4" width="10" height="32.2" fill="#F23659" stroke="#787B86" stroke-width="1"/>
<rect x="945" y="1880.3" width="1" height="1.7" fill="#787B86"/><rect x="940" y="1881" width="11" height="2" fill="#787B86"/>
<rect x="959" y="1881.6" width="1" height="7.2" fill="#787B86"/><rect x="954.5" y="1877.4" width="10" height="4.2" fill="#089981" stroke="#787B86" stroke-width="1"/>
<rect x="974" y="1877.7" width="1" height="1.7" fill="#787B86"/><rect x="969.5" y="1875.1" width="10" height="2.6" fill="#089981" stroke="#787B86" stroke-width="1"/>
<rect x="988" y="1865" width="1" height="1.2" fill="#787B86"/><rect x="983.5" y="1866.2" width="10" height="9.4" fill="#089981" stroke="#787B86" stroke-width="1"/>
<rect x="1003" y="1870.5" width="1" height="2.1" fill="#787B86"/><rect x="998.5" y="1866.2" width="10" height="4.3" fill="#F23659" stroke="#787B86" stroke-width="1"/>
<rect x="1017" y="1869.3" width="1" height="1.5" fill="#787B86"/><rect x="1012" y="1869.8" width="11" height="2" fill="#787B86"/>
<rect x="1032" y="1859" width="1" height="3.3" fill="#787B86"/><rect x="1027.5" y="1862.3" width="10" height="8.2" fill="#089981" stroke="#787B86" stroke-width="1"/>
<path d="M0 248.5H1518" stroke="#A3A6AF" stroke-width="1" stroke-dasharray="2.5 1.5" stroke-dashoffset="-1.15"/>
<path d="M0 699.5H1518" stroke="#089981" stroke-width="1" stroke-dasharray="2.5 1.5" stroke-dashoffset="-1.15"/>
<path d="M59.5 0V1980" stroke="#A3A6AF" stroke-width="1" stroke-dasharray="2.5 1.5" stroke-dashoffset="0.65"/>
<text x="131" y="110" fill="#F5504E" font-size="36.3" font-family="'Liberation Sans', 'Noto Sans CJK SC', sans-serif">一、分析这个图</text></svg>
</body></html>
